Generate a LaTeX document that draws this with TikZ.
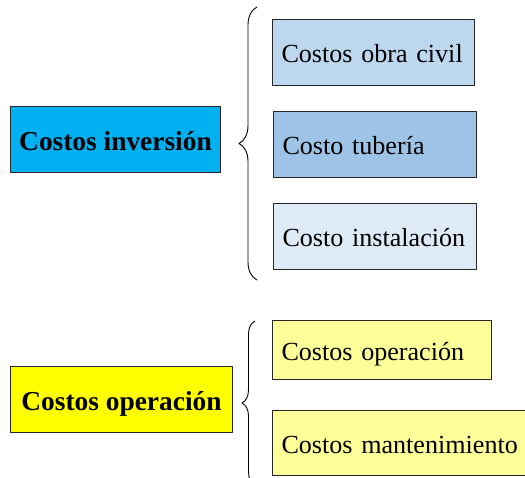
\documentclass[tikz,border=0pt]{standalone}
\usepackage{fontspec}
\setmainfont{Liberation Serif}
\usetikzlibrary{decorations.pathreplacing}
\definecolor{invblue}{HTML}{00B0F0}
\definecolor{obrablue}{HTML}{BDD7EE}
\definecolor{tubblue}{HTML}{9DC3E6}
\definecolor{instblue}{HTML}{DEEBF7}
\definecolor{opeyellow}{HTML}{FFFF00}
\definecolor{subyellow}{HTML}{FFFF99}
\begin{document}
\begin{tikzpicture}[x=1bp, y=1bp, line join=round,
    titlebox/.style={draw=black!85, line width=1bp, minimum height=66bp, inner sep=2bp,
      text height=24bp, text depth=2bp, font=\fontsize{27.5}{32}\selectfont\bfseries},
    itembox/.style={draw=black!85, line width=1bp, minimum height=66bp, inner xsep=9bp,
      text height=22bp, text depth=2bp,
      anchor=west, align=left, text width=#1, font=\fontsize{26.2}{30}\selectfont},
    bracket/.style={decorate, decoration={brace, amplitude=#1}, line width=0.9bp}]
  \useasboundingbox (0,0) rectangle (525,478);
  % costos de inversion
  \node[titlebox, fill=invblue, minimum width=209bp] (inv) at (115.5,338.5) {Costos inversión};
  \node[itembox=184bp, fill=obrablue] (obra) at (272,425) {Costos obra civil};
  \node[itembox=185bp, fill=tubblue] (tub) at (273,333) {Costo tubería};
  \node[itembox=185bp, fill=instblue] (inst) at (273,241) {Costo instalación};
  \coordinate (invtop) at (257,471);
  \coordinate (invbot) at (257,198);
  \draw[bracket=18bp] (invbot) -- (invtop);
  % costos de operacion
  \node[titlebox, fill=opeyellow, minimum width=221bp] (ope) at (121.5,78) {Costos operación};
  \node[itembox=201bp, fill=subyellow, minimum height=59bp] (opc) at (272,127.5) {Costos operación};
  \node[itembox=244bp, fill=subyellow, minimum height=65bp] (mant) at (272,34.5) {Costos mantenimiento};
  \coordinate (opetop) at (255,157);
  \coordinate (opebot) at (255,-7);
  \draw[bracket=13bp] (opebot) -- (opetop);
\end{tikzpicture}
\end{document}
